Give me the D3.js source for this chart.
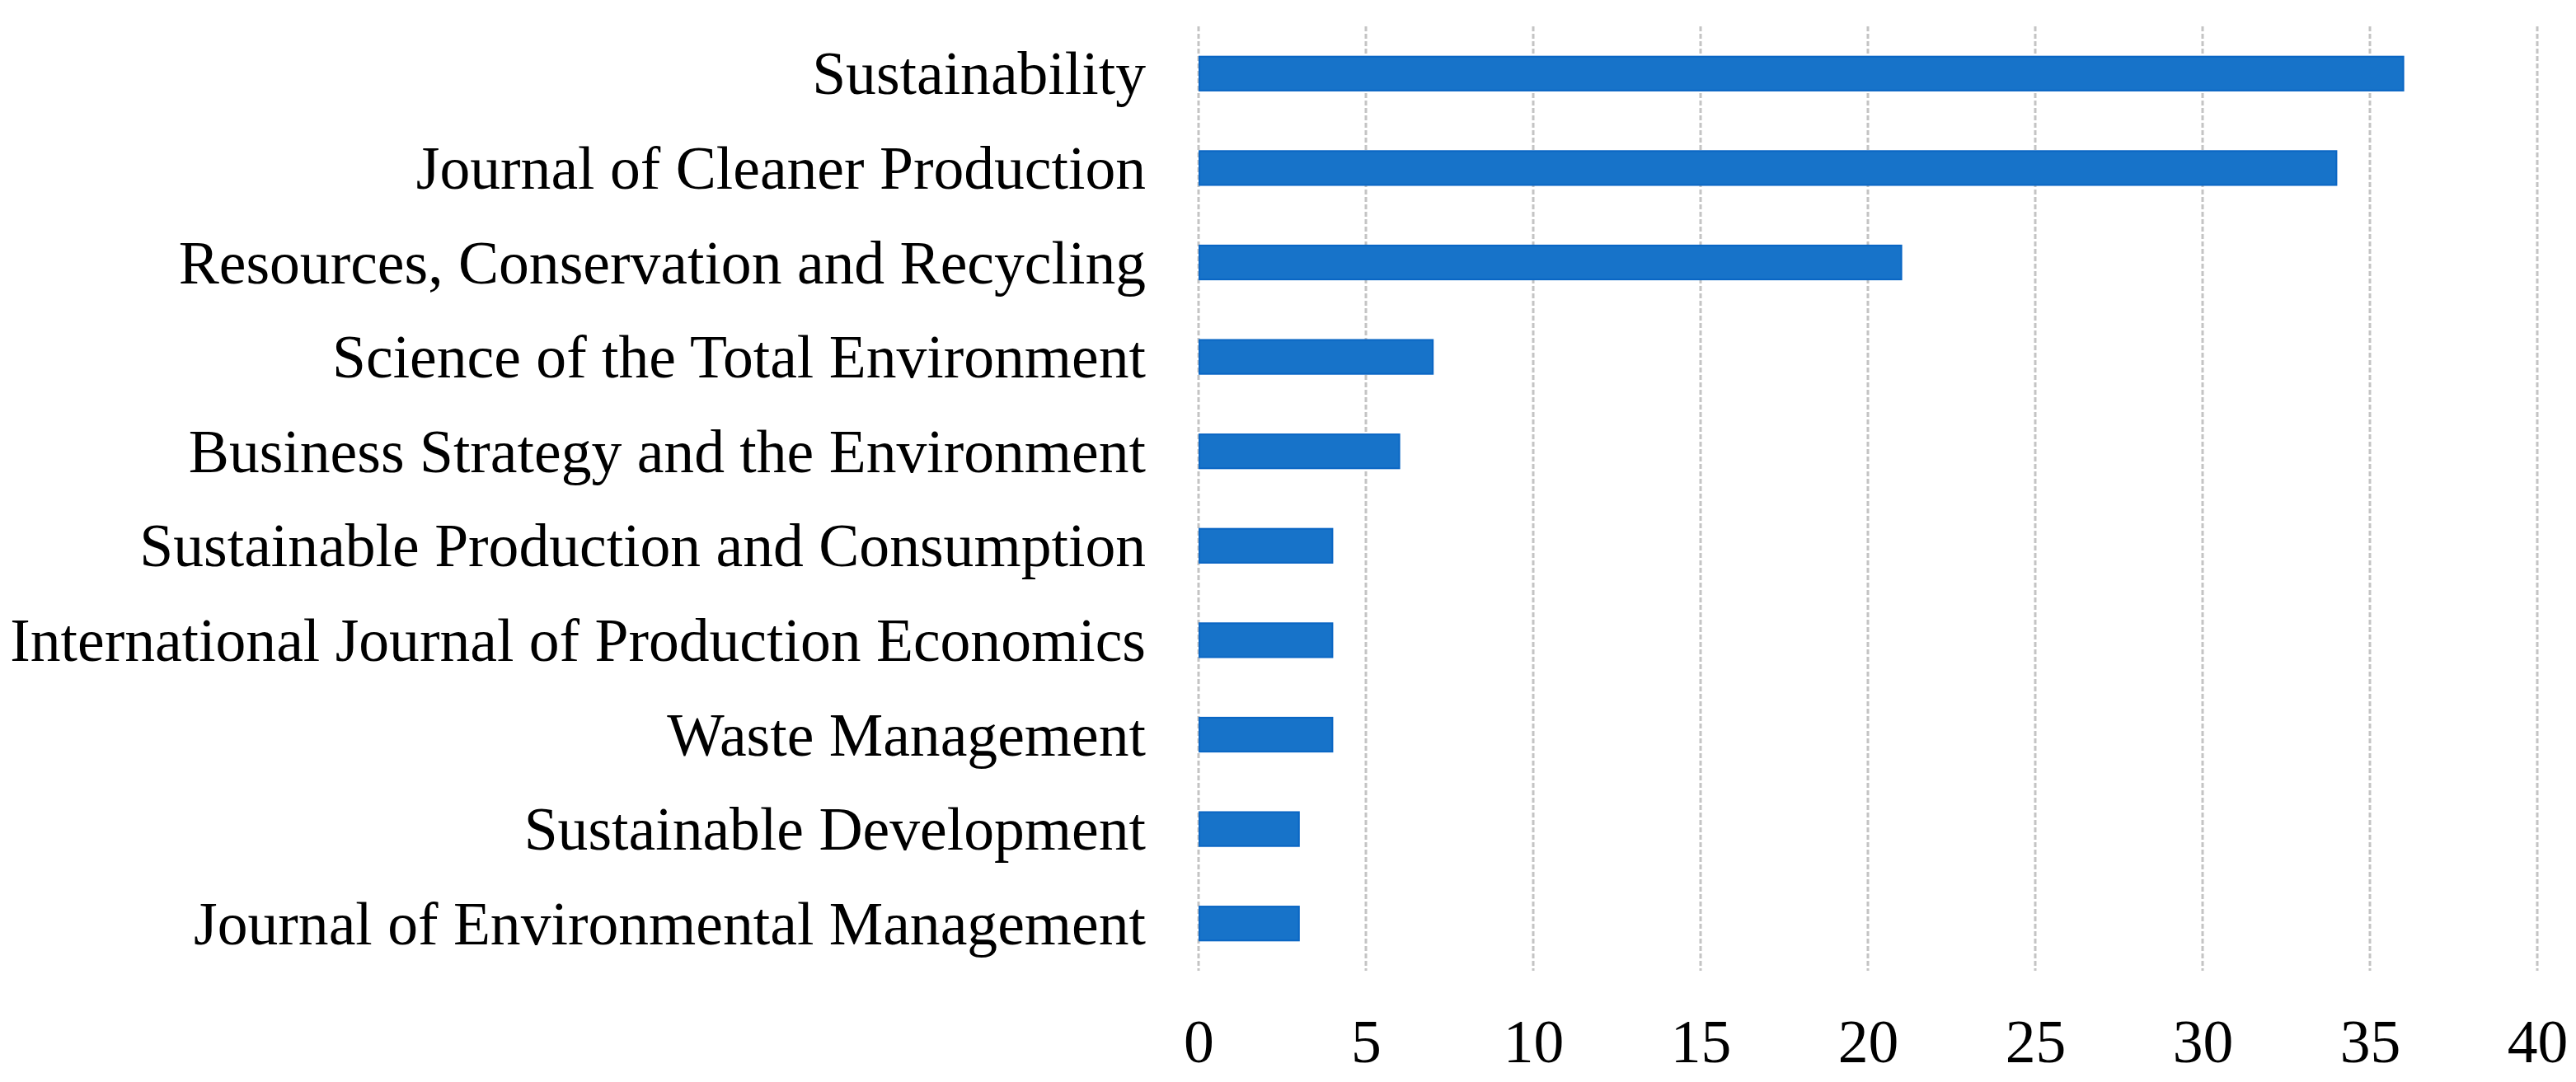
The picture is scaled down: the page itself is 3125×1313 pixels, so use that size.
<!DOCTYPE html>
<html>
<head>
<meta charset="utf-8">
<script src="https://cdn.jsdelivr.net/npm/d3@7"></script>
<style>
  html, body { margin: 0; padding: 0; background: #fff; }
  text { font-family: "Liberation Serif", "DejaVu Serif", serif; fill: #000; }
</style>
</head>
<body>
<svg id="chart"></svg>
<script>
'use strict';

// journals, top to bottom
var journals = [
  "Sustainability",
  "Journal of Cleaner Production",
  "Resources, Conservation and Recycling",
  "Science of the Total Environment",
  "Business Strategy and the Environment",
  "Sustainable Production and Consumption",
  "International Journal of Production Economics",
  "Waste Management",
  "Sustainable Development",
  "Journal of Environmental Management"
];
var counts = [36, 34, 21, 7, 6, 4, 4, 4, 3, 3];
var xTicks = [0, 5, 10, 15, 20, 25, 30, 35, 40];

var width = 3125;
var height = 1313;

var svg = d3.select('#chart')
  .attr('width', width)
  .attr('height', height);

var x = d3.scaleLinear()
  .domain([0, 40])
  .range([1454, 3078]);

var y = d3.scaleBand()
  .domain(journals)
  .range([32, 1178])
  .paddingInner(0.64)
  .paddingOuter(0.32);

// font size: fit the longest label to the width seen in the picture
var probe = svg.append('text').style('font-size', '100px').text(journals[6]);
var fontSize = 100 * 1378 / probe.node().getComputedTextLength();
probe.remove();

// grid lines
svg.append('g')
  .selectAll('line')
  .data(xTicks)
  .enter().append('line')
  .attr('x1', function (d) { return x(d); })
  .attr('x2', function (d) { return x(d); })
  .attr('y1', 32)
  .attr('y2', 1178)
  .style('stroke', '#c4c4c4')
  .style('stroke-width', 3)
  .style('stroke-dasharray', '6,3');

// bars
svg.append('g')
  .selectAll('rect')
  .data(counts)
  .enter().append('rect')
  .attr('x', x(0) + 1)
  .attr('y', function (d, i) { return y(journals[i]); })
  .attr('width', function (d) { return x(d) - x(0) - 1; })
  .attr('height', y.bandwidth())
  .style('fill', '#1773c9')
  .style('stroke', '#0a66c4')
  .style('stroke-width', 2);

// category labels
var yAxis = svg.append('g')
  .attr('transform', 'translate(' + (x(0) - 64) + ',0)')
  .call(d3.axisLeft(y).tickSize(0).tickPadding(0));
yAxis.select('.domain').remove();
yAxis.selectAll('text')
  .style('font-size', fontSize + 'px')
  .style('font-family', '"Liberation Serif", "DejaVu Serif", serif')
  .attr('fill', '#000')
  .attr('dy', '0.34em');

// value axis labels
var xAxis = svg.append('g')
  .attr('transform', 'translate(0,1252)')
  .call(d3.axisBottom(x).tickValues(xTicks).tickSize(0).tickPadding(0));
xAxis.select('.domain').remove();
xAxis.selectAll('text')
  .style('font-size', fontSize + 'px')
  .style('font-family', '"Liberation Serif", "DejaVu Serif", serif')
  .attr('fill', '#000')
  .attr('dy', '0.5em');
</script>
</body>
</html>
